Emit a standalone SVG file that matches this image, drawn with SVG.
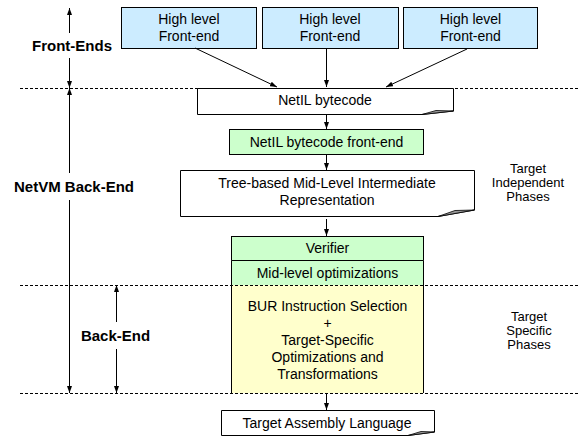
<svg xmlns="http://www.w3.org/2000/svg" width="579" height="437" viewBox="0 0 579 437">
<defs>
<marker id="ah" viewBox="0 0 7 5" refX="7" refY="2.5" markerWidth="7" markerHeight="5" markerUnits="userSpaceOnUse" orient="auto-start-reverse">
<path d="M0,0 L7,2.5 L0,5 z" fill="#000"/>
</marker>
<style>
text{font-family:"Liberation Sans",Arial,sans-serif;font-size:14px;fill:#000;text-anchor:middle}
.lbl{font-weight:bold;font-size:15px}
.side{font-size:13px}
.blue{fill:#CCECFF;stroke:#000;stroke-width:1}
.green{fill:#CCFFCC;stroke:#000;stroke-width:1}
.doc{fill:#fff;stroke:#000;stroke-width:1}
.curl{fill:#999;stroke:#000;stroke-width:0.8}
.guide{stroke:#000;stroke-width:1;stroke-dasharray:3,2;fill:none}
.conn{stroke:#000;stroke-width:1;fill:none;marker-end:url(#ah)}
.span{stroke:#000;stroke-width:1;fill:none}
</style>
</defs>
<rect width="579" height="437" fill="#fff"/>

<g id="fe1">
<rect class="blue" x="121.5" y="7.5" width="135" height="41"/>
<text x="189" y="24">High level</text>
<text x="189" y="41">Front-end</text>
</g>
<g id="fe2">
<rect class="blue" x="262.5" y="7.5" width="136" height="41"/>
<text x="330" y="24">High level</text>
<text x="330" y="41">Front-end</text>
</g>
<g id="fe3">
<rect class="blue" x="403.5" y="7.5" width="134" height="41"/>
<text x="470.5" y="24">High level</text>
<text x="470.5" y="41">Front-end</text>
</g>

<g id="yellow-backend">
<rect x="231" y="285" width="193" height="108" fill="#FFFFCC"/>
<path d="M231.5,285 V393 M423.5,285 V393" class="span"/>
<text x="327.5" y="311">BUR Instruction Selection</text>
<text x="327.5" y="328">+</text>
<text x="327.5" y="345">Target-Specific</text>
<text x="327.5" y="362">Optimizations and</text>
<text x="327.5" y="379">Transformations</text>
</g>

<g id="guides">
<line class="guide" x1="20" y1="88.5" x2="579" y2="88.5"/>
<line class="guide" x1="20" y1="285.5" x2="579" y2="285.5"/>
<line class="guide" x1="20" y1="393.5" x2="579" y2="393.5"/>
</g>

<g id="netil">
<path class="doc" d="M197.5,88.5 H453.5 V111 L422,114.5 H197.5 Z"/>
<path class="curl" d="M422,114.5 L436,110.5 L453.5,111 Z"/>
<text x="325" y="105">NetIL bytecode</text>
</g>

<g id="netil-fe">
<rect class="green" x="229.5" y="129.5" width="194" height="25"/>
<text x="326.5" y="147">NetIL bytecode front-end</text>
</g>

<g id="tree">
<path class="doc" d="M180.5,170.5 H474.5 V210 L438,216.5 H180.5 Z"/>
<path class="curl" d="M438,216.5 L455,210.5 L474.5,210 Z"/>
<text x="327" y="188">Tree-based Mid-Level Intermediate</text>
<text x="327" y="205">Representation</text>
</g>

<g id="verifier">
<rect class="green" x="231.5" y="236.5" width="192" height="24"/>
<text x="327.5" y="253">Verifier</text>
</g>
<g id="midopt">
<rect x="231" y="260.5" width="193" height="24.5" fill="#CCFFCC"/>
<path d="M231.5,260.5 H423.5 M231.5,260.5 V285 M423.5,260.5 V285" class="span"/>
<text x="327.5" y="278">Mid-level optimizations</text>
</g>

<g id="target-asm">
<path class="doc" d="M221.5,410.5 H434.5 V432 L408,435.5 H221.5 Z"/>
<path class="curl" d="M408,435.5 L421,431.5 L434.5,432 Z"/>
<text x="327" y="428">Target Assembly Language</text>
</g>

<g id="connectors">
<line class="conn" x1="195" y1="48" x2="277" y2="87"/>
<line class="conn" x1="326.5" y1="48" x2="326.5" y2="87"/>
<line class="conn" x1="467" y1="49" x2="386" y2="87"/>
<line class="conn" x1="326.5" y1="114" x2="326.5" y2="129"/>
<line class="conn" x1="326.5" y1="155" x2="326.5" y2="170"/>
<line class="conn" x1="326.5" y1="219" x2="326.5" y2="236"/>
<line class="conn" x1="326.5" y1="393" x2="326.5" y2="410"/>
</g>

<g id="span-front-ends">
<line class="span" x1="69.5" y1="33" x2="69.5" y2="8" marker-end="url(#ah)"/>
<line class="span" x1="69.5" y1="58" x2="69.5" y2="88" marker-end="url(#ah)"/>
<text class="lbl" x="72" y="51">Front-Ends</text>
</g>
<g id="span-netvm">
<line class="span" x1="69.5" y1="173" x2="69.5" y2="88" marker-end="url(#ah)"/>
<line class="span" x1="69.5" y1="200" x2="69.5" y2="393" marker-end="url(#ah)"/>
<text class="lbl" x="74" y="192">NetVM Back-End</text>
</g>
<g id="span-backend">
<line class="span" x1="116.5" y1="322" x2="116.5" y2="285" marker-end="url(#ah)"/>
<line class="span" x1="116.5" y1="349" x2="116.5" y2="393" marker-end="url(#ah)"/>
<text class="lbl" x="115.5" y="341">Back-End</text>
</g>

<g id="phase-labels">
<text class="side" x="528" y="173">Target</text>
<text class="side" x="528" y="187">Independent</text>
<text class="side" x="528" y="201">Phases</text>
<text class="side" x="529" y="321">Target</text>
<text class="side" x="529" y="335">Specific</text>
<text class="side" x="529" y="349">Phases</text>
</g>
</svg>
